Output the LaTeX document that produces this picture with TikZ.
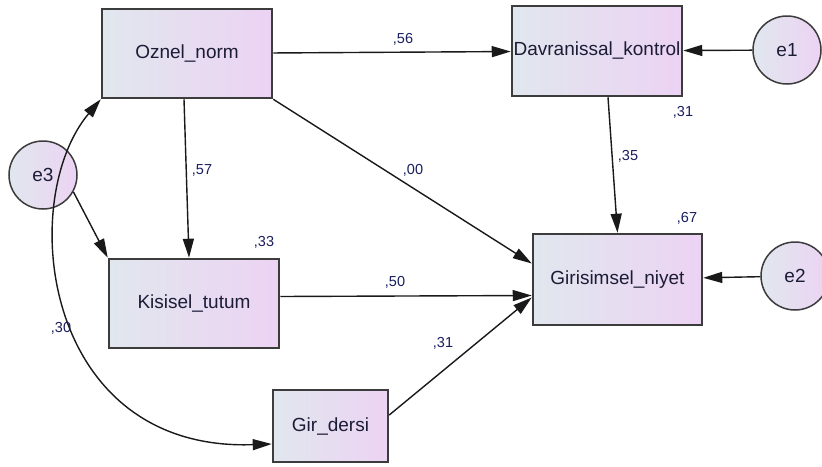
\documentclass[tikz,border=0pt]{standalone}
\usepackage{fontspec}
\setmainfont{Liberation Sans}
\usetikzlibrary{arrows.meta}
\definecolor{boxleft}{RGB}{225,231,238}
\definecolor{boxright}{RGB}{236,211,243}
\definecolor{rim}{RGB}{60,60,60}
\definecolor{coefcol}{RGB}{25,30,95}
\definecolor{txtcol}{RGB}{28,28,55}

\begin{document}
\begin{tikzpicture}[x=1pt, y=-1pt,
>={Triangle[length=19pt,width=11pt]}]
    \tikzstyle{var}=[rectangle,draw=rim,line width=2.5pt,left color=boxleft,right color=boxright,
        inner sep=1pt,text=txtcol,font=\fontsize{19}{22}\selectfont]
    \tikzstyle{err}=[circle,draw=rim,line width=1.5pt,minimum size=68pt,inner sep=0pt,
        left color=boxleft,right color=boxright,text=txtcol,font=\fontsize{19}{22}\selectfont]
    \tikzstyle{coef}=[text=coefcol,inner sep=0pt,font=\fontsize{14.5}{17}\selectfont]
    \tikzstyle{arr}=[->,line width=1.4pt,draw=black!90];

\useasboundingbox (0,0) rectangle (822,466);
\fill[white] (0,0) rectangle (822,466);

\node[var,minimum width=170pt,minimum height=89pt] (oznel) at (187,53.5) {Oznel\_norm};
\node[var,minimum width=170pt,minimum height=90pt] (davranis) at (597,51) {Davranissal\_kontrol};
\node[var,minimum width=170pt,minimum height=89pt] (kisisel) at (194,303.5) {Kisisel\_tutum};
\node[var,minimum width=115pt,minimum height=72pt] (girdersi) at (330.5,426) {Gir\_dersi};
\node[var,minimum width=169pt,minimum height=91pt] (girisim) at (617.5,279.5) {Girisimsel\_niyet};
\node[err] (e1) at (787,50) {e1};
\node[err] (e2) at (795,276) {e2};
\node[err] (e3) at (43,175) {e3};

\draw[arr] (oznel) -- (davranis);
\draw[arr] ([xshift=-3pt]oznel.south) -- ([xshift=-5pt]kisisel.north);
\draw[arr] (oznel.south east) -- ([yshift=16pt]girisim.west);
\draw[arr] ([yshift=7pt]kisisel.east) -- ([yshift=-16pt]girisim.west);
\draw[arr] ([yshift=11pt]girdersi.east) -- ([yshift=-18pt]girisim.west);
\draw[arr] ([xshift=11pt]davranis.south) -- (girisim.north);
\draw[arr] (e1) -- (davranis);
\draw[arr] (e2) -- (girisim);
\draw[arr] (e3.-29) -- (kisisel.north west);
%\draw[arr,<->] (oznel.south west) to[out=235,in=180] ([yshift=-18pt]girdersi.west);
\draw[arr,<->] (oznel.south west) .. controls (16,200) and (42,452) .. ([yshift=-18pt]girdersi.west);

\foreach \n/\x/\y/\t in {l56/403/39/56, l57/202/170/57, l00/413/170/00, l35/628/156/35,
    l31a/683/112/31, l67/687/218/67, l33/264/242/33, l50/395/282/50, l31b/443/343/31, l30/61/328/30}
    \node[coef] (\n) at (\x,\y) {,\t};
\end{tikzpicture}
\end{document}
